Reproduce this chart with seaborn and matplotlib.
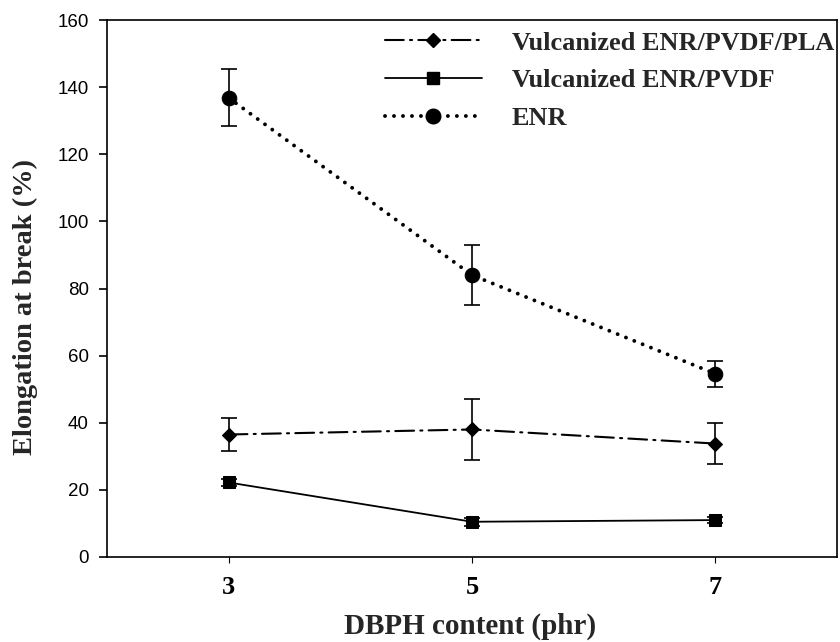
import matplotlib
matplotlib.use("Agg")
import matplotlib.pyplot as plt
import seaborn as sns
import pandas as pd
from matplotlib.lines import Line2D

# ---- data ----
dbph = [3, 5, 7]
pla_mean = [36.5, 38.0, 33.8]
pla_err = [5.0, 9.0, 6.0]
pvdf_mean = [22.2, 10.5, 11.0]
pvdf_err = [1.0, 1.2, 1.0]
enr_mean = [136.8, 84.0, 54.6]
enr_err = [8.5, 9.0, 3.9]
labels = ["Vulcanized ENR/PVDF/PLA", "Vulcanized ENR/PVDF", "ENR"]
yticks = [0, 20, 40, 60, 80, 100, 120, 140, 160]
xticks = [3, 5, 7]

sns.set_theme(style="ticks")
plt.rcParams['font.family'] = ['Liberation Serif', 'DejaVu Sans']

fig = plt.figure(figsize=(8.4, 6.42), dpi=100)
ax = fig.add_axes([0.1274, 0.1324, 0.8690, 0.8364])

series = [
    (pla_mean, pla_err, labels[0], "D", 7.0, (0, (9, 3, 1, 3)), 1.5),
    (pvdf_mean, pvdf_err, labels[1], "s", 8.5, "-", 1.3),
    (enr_mean, enr_err, labels[2], "o", 10.5, (0, (0.01, 2.3)), 2.8),
]

for mean, err, lab, mk, ms, ls, lw in series:
    df = pd.DataFrame({"x": dbph, "y": mean})
    sns.lineplot(data=df, x="x", y="y", ax=ax, color="black", marker=mk,
                 markersize=ms, markeredgecolor="black", linestyle=ls,
                 linewidth=lw, dash_capstyle="round", label=lab, legend=False)
    ax.errorbar(dbph, mean, yerr=err, fmt="none", ecolor="black",
                elinewidth=1.2, capsize=6, capthick=1.2)

handles = []
for mean, err, lab, mk, ms, ls, lw in series:
    handles.append(Line2D([], [], color="black", marker=mk, markersize=ms,
                          linestyle=ls, linewidth=lw, dash_capstyle="round"))

leg = ax.legend(handles, labels, loc="upper left", bbox_to_anchor=(0.381, 0.979),
                frameon=False, handlelength=3.68, handletextpad=1.15,
                labelspacing=0.545, borderpad=0, borderaxespad=0,
                prop={"family": "Liberation Serif", "weight": "bold", "size": 18.9})
for t in leg.get_texts():
    t.set_clip_box(ax.bbox)
    t.set_clip_on(True)

ax.set_xlim(2, 8)
ax.set_ylim(0, 160)
ax.set_xticks(xticks)
ax.set_yticks(yticks)
ax.set_xticklabels([str(v) for v in xticks], fontfamily="Liberation Serif",
                   fontweight="bold", fontsize=19)
ax.set_yticklabels([str(v) for v in yticks], fontfamily="Liberation Sans",
                   fontsize=13.5)
ax.tick_params(axis="y", direction="out", length=6, width=1.2, pad=7, colors="black")
ax.tick_params(axis="x", direction="out", length=4, width=0.8, pad=10, colors="black")

for s in ax.spines.values():
    s.set_visible(True)
    s.set_linewidth(1.2)
    s.set_color("black")

ax.set_xlabel("DBPH content (phr)", fontfamily="Liberation Serif",
              fontweight="bold", fontsize=21)
ax.set_ylabel("Elongation at break (%)", fontfamily="Liberation Serif",
              fontweight="bold", fontsize=20.5)
ax.xaxis.set_label_coords(0.497, -0.104)
ax.yaxis.set_label_coords(-0.094, 0.466)

fig.savefig("out.png", dpi=100)
